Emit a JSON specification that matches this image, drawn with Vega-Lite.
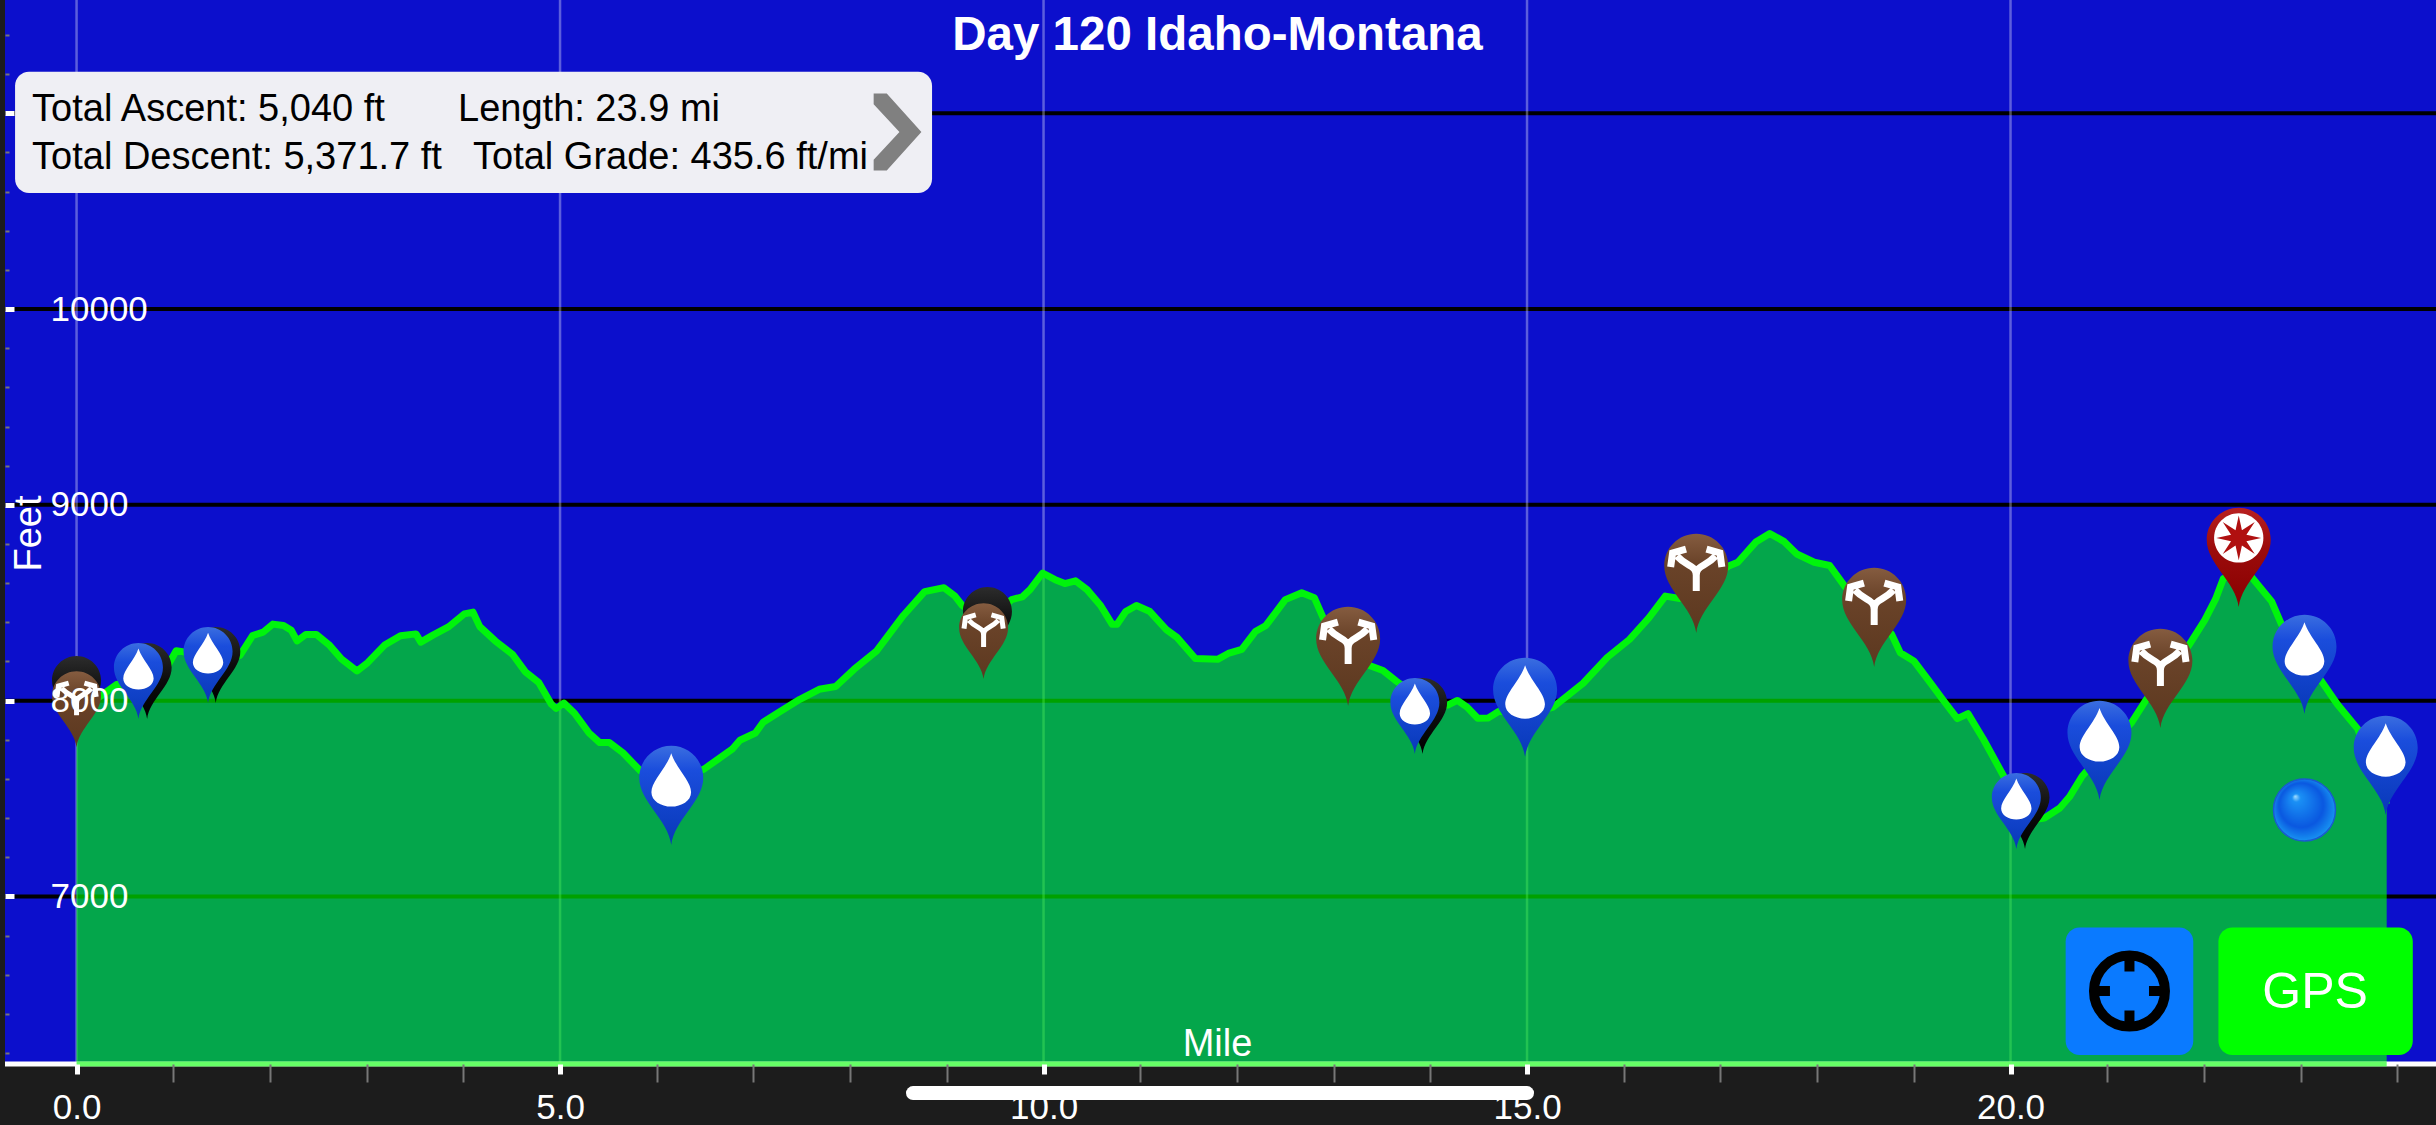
{
"$schema":"https://vega.github.io/schema/vega-lite/v6.json",
"width":2431,"height":1064,
"autosize":{"type":"none"},
"padding":{"left":5,"top":0,"right":0,"bottom":61},
"background":"#1c1c1c",
"view":{"fill":"#0c0fcc","stroke":null},
"title":{"text":"Day 120 Idaho-Montana","fontSize":47.5,"font":"Liberation Sans","fontWeight":"bold","color":"#ffffff","offset":-61,"dx":-3,"anchor":"middle"},
"datasets":{
"profile":[
{"mile":0,"feet":7835},{"mile":0.21,"feet":8010},{"mile":0.42,"feet":8084},{"mile":0.61,"feet":8047},{"mile":0.95,"feet":8185},{"mile":1.03,"feet":8255},{"mile":1.11,"feet":8249},{"mile":1.27,"feet":8244},{"mile":1.69,"feet":8231},{"mile":1.82,"feet":8332},{"mile":1.93,"feet":8350},{"mile":2.03,"feet":8391},{"mile":2.14,"feet":8384},{"mile":2.22,"feet":8360},{"mile":2.28,"feet":8305},{"mile":2.37,"feet":8338},{"mile":2.48,"feet":8338},{"mile":2.61,"feet":8286},{"mile":2.74,"feet":8213},{"mile":2.9,"feet":8152},{"mile":3.01,"feet":8194},{"mile":3.19,"feet":8286},{"mile":3.35,"feet":8332},{"mile":3.51,"feet":8341},{"mile":3.56,"feet":8299},{"mile":3.69,"feet":8336},{"mile":3.85,"feet":8378},{"mile":4.01,"feet":8443},{"mile":4.1,"feet":8452},{"mile":4.17,"feet":8378},{"mile":4.33,"feet":8305},{"mile":4.51,"feet":8236},{"mile":4.64,"feet":8148},{"mile":4.78,"feet":8093},{"mile":4.91,"feet":7982},{"mile":4.96,"feet":7960},{"mile":5.04,"feet":7988},{"mile":5.15,"feet":7936},{"mile":5.3,"feet":7835},{"mile":5.41,"feet":7786},{"mile":5.51,"feet":7786},{"mile":5.65,"feet":7734},{"mile":5.83,"feet":7642},{"mile":6.15,"feet":7578},{"mile":6.49,"feet":7651},{"mile":6.78,"feet":7752},{"mile":6.86,"feet":7798},{"mile":7.02,"feet":7835},{"mile":7.1,"feet":7890},{"mile":7.28,"feet":7946},{"mile":7.48,"feet":8007},{"mile":7.68,"feet":8058},{"mile":7.85,"feet":8072},{"mile":8.04,"feet":8160},{"mile":8.27,"feet":8252},{"mile":8.55,"feet":8435},{"mile":8.77,"feet":8557},{"mile":8.97,"feet":8577},{"mile":9.08,"feet":8536},{"mile":9.16,"feet":8486},{"mile":9.4,"feet":8400},{"mile":9.67,"feet":8516},{"mile":9.78,"feet":8530},{"mile":9.86,"feet":8567},{"mile":9.99,"feet":8652},{"mile":10.12,"feet":8618},{"mile":10.22,"feet":8598},{"mile":10.33,"feet":8612},{"mile":10.45,"feet":8567},{"mile":10.59,"feet":8486},{"mile":10.71,"feet":8390},{"mile":10.76,"feet":8390},{"mile":10.85,"feet":8455},{"mile":10.96,"feet":8486},{"mile":11.1,"feet":8455},{"mile":11.27,"feet":8363},{"mile":11.38,"feet":8323},{"mile":11.57,"feet":8215},{"mile":11.8,"feet":8211},{"mile":11.91,"feet":8241},{"mile":12.05,"feet":8262},{"mile":12.19,"feet":8353},{"mile":12.3,"feet":8384},{"mile":12.5,"feet":8516},{"mile":12.67,"feet":8551},{"mile":12.8,"feet":8526},{"mile":12.89,"feet":8425},{"mile":13.15,"feet":8280},{"mile":13.37,"feet":8180},{"mile":13.51,"feet":8154},{"mile":13.65,"feet":8099},{"mile":13.9,"feet":8010},{"mile":14.18,"feet":7977},{"mile":14.28,"feet":8001},{"mile":14.38,"feet":7967},{"mile":14.49,"feet":7910},{"mile":14.6,"feet":7912},{"mile":14.71,"feet":7946},{"mile":15,"feet":7930},{"mile":15.27,"feet":7967},{"mile":15.58,"feet":8089},{"mile":15.83,"feet":8221},{"mile":16.06,"feet":8313},{"mile":16.26,"feet":8423},{"mile":16.43,"feet":8534},{"mile":16.58,"feet":8522},{"mile":16.85,"feet":8600},{"mile":17.08,"feet":8686},{"mile":17.18,"feet":8707},{"mile":17.37,"feet":8812},{"mile":17.51,"feet":8854},{"mile":17.66,"feet":8812},{"mile":17.79,"feet":8749},{"mile":17.97,"feet":8707},{"mile":18.13,"feet":8690},{"mile":18.29,"feet":8581},{"mile":18.55,"feet":8470},{"mile":18.77,"feet":8339},{"mile":18.86,"feet":8245},{"mile":19,"feet":8203},{"mile":19.16,"feet":8098},{"mile":19.32,"feet":7992},{"mile":19.45,"feet":7908},{"mile":19.56,"feet":7934},{"mile":19.72,"feet":7803},{"mile":19.93,"feet":7614},{"mile":20.15,"feet":7385},{"mile":20.35,"feet":7400},{"mile":20.51,"feet":7452},{"mile":20.61,"feet":7509},{"mile":20.74,"feet":7614},{"mile":21,"feet":7760},{"mile":21.25,"feet":7887},{"mile":21.4,"feet":8003},{"mile":21.6,"feet":8120},{"mile":21.85,"feet":8287},{"mile":22.01,"feet":8413},{"mile":22.12,"feet":8518},{"mile":22.2,"feet":8623},{"mile":22.35,"feet":8660},{"mile":22.49,"feet":8633},{"mile":22.7,"feet":8507},{"mile":22.8,"feet":8392},{"mile":23.22,"feet":8097},{"mile":23.38,"feet":7982},{"mile":23.59,"feet":7856},{"mile":23.89,"feet":7470}
],
"pins":[
{"mile":0,"feet":7840,"kind":"hidden","tier":"small"},
{"mile":0.73,"feet":7907,"kind":"hidden","tier":"small"},
{"mile":1.44,"feet":7988,"kind":"hidden","tier":"small"},
{"mile":9.42,"feet":8192,"kind":"hidden","tier":"small"},
{"mile":13.92,"feet":7728,"kind":"hidden","tier":"small"},
{"mile":20.15,"feet":7243,"kind":"hidden","tier":"small"},
{"mile":0,"feet":7762,"kind":"junction","tier":"small"},
{"mile":9.38,"feet":8110,"kind":"junction","tier":"small"},
{"mile":13.15,"feet":7973,"kind":"junction","tier":"large"},
{"mile":16.75,"feet":8346,"kind":"junction","tier":"large"},
{"mile":18.59,"feet":8172,"kind":"junction","tier":"large"},
{"mile":21.55,"feet":7861,"kind":"junction","tier":"large"},
{"mile":0.64,"feet":7907,"kind":"water","tier":"small"},
{"mile":1.36,"feet":7988,"kind":"water","tier":"small"},
{"mile":6.15,"feet":7263,"kind":"water","tier":"large"},
{"mile":13.84,"feet":7728,"kind":"water","tier":"small"},
{"mile":14.98,"feet":7712,"kind":"water","tier":"large"},
{"mile":20.06,"feet":7243,"kind":"water","tier":"small"},
{"mile":20.92,"feet":7493,"kind":"water","tier":"large"},
{"mile":23.04,"feet":7932,"kind":"water","tier":"large"},
{"mile":23.88,"feet":7416,"kind":"water","tier":"large"},
{"mile":22.36,"feet":8478,"kind":"summit","tier":"large"}
],
"panels":[
{"name":"card","mile":-0.636,"mile2":8.847,"feet":11211,"feet2":10593},
{"name":"locate","mile":20.57,"mile2":21.89,"feet":6842,"feet2":6190},
{"name":"gps","mile":22.15,"mile2":24.16,"feet":6842,"feet2":6190}
],
"labels":[
{"label":"Total Ascent: 5,040 ft","mile":-0.46,"feet":11015,"group":"card"},
{"label":"Length: 23.9 mi","mile":3.945,"feet":11015,"group":"card"},
{"label":"Total Descent: 5,371.7 ft","mile":-0.46,"feet":10772,"group":"card"},
{"label":"Total Grade: 435.6 ft/mi","mile":4.1,"feet":10772,"group":"card"},
{"label":"GPS","mile":23.15,"feet":6505,"group":"button"}
],
"tracks":[
{"track":"axis","mile":-0.74,"feet":6144.6},{"track":"axis","mile":24.4,"feet":6144.6},
{"track":"floor","mile":0,"feet":6144.6},{"track":"floor","mile":23.89,"feet":6144.6},
{"track":"home","mile":8.65,"feet":5996},{"track":"home","mile":15,"feet":5996}
],
"spots":[
{"spot":"ball","mile":23.04,"feet":7442},
{"spot":"target","mile":21.23,"feet":6517},
{"spot":"chevron","mile":8.49,"feet":10904}
],
"verticals":[{"mile":0},{"mile":5},{"mile":10},{"mile":15},{"mile":20}],
"horizontals":[{"feet":7000},{"feet":8000},{"feet":9000},{"feet":10000},{"feet":11000}]
},
"encoding":{
"x":{"field":"mile","type":"quantitative","scale":{"domain":[-0.74,24.4],"nice":false,"zero":false},
"axis":{"values":[0,1,2,3,4,5,6,7,8,9,10,11,12,13,14,15,16,17,18,19,20,21,22,23,24],
"title":"Mile","titleFont":"Liberation Sans","titleFontSize":38,"titleFontWeight":"normal","titleColor":"#ffffff","titleX":1212,"titleY":-20,"titleBaseline":"middle","titleAlign":"center",
"labelExpr":"datum.value % 5 == 0 ? format(datum.value,'.1f') : ''","labelFont":"Liberation Sans","labelFontSize":35,"labelColor":"#ffffff","labelPadding":16,"labelOverlap":false,"labelFlush":false,
"domain":false,"grid":false,
"tickColor":{"condition":{"test":"datum.value % 5 == 0","value":"#ffffff"},"value":"#777777"},
"tickWidth":{"condition":{"test":"datum.value % 5 == 0","value":5},"value":2},
"tickSize":{"condition":{"test":"datum.value % 5 == 0","value":10},"value":18},
"zindex":1}},
"y":{"field":"feet","type":"quantitative","scale":{"domain":[6144.6,11578],"nice":false,"zero":false},
"axis":{"values":[6200,6400,6600,6800,7000,7200,7400,7600,7800,8000,8200,8400,8600,8800,9000,9200,9400,9600,9800,10000,10200,10400,10600,10800,11000,11200,11400],
"title":"Feet","titleFont":"Liberation Sans","titleFontSize":38,"titleFontWeight":"normal","titleColor":"#ffffff","titleX":24,"titleY":533,"titleBaseline":"middle","titleAlign":"center","titleAngle":-90,
"labelExpr":"datum.value % 1000 == 0 && datum.value < 11000 ? format(datum.value,'d') : ''","labelFont":"Liberation Sans","labelFontSize":35,"labelColor":"#ffffff","labelAlign":"left","labelPadding":-36,"labelOverlap":false,
"domain":false,"grid":false,
"tickColor":{"condition":{"test":"datum.value % 1000 == 0","value":"#ffffff"},"value":"#777777"},
"tickWidth":{"condition":{"test":"datum.value % 1000 == 0","value":5},"value":2},
"tickSize":{"condition":{"test":"datum.value % 1000 == 0","value":-9},"value":-4},
"zindex":1}}
},
"layer":[
{"data":{"name":"horizontals"},"mark":{"type":"rule","color":"#000000","strokeWidth":4},"encoding":{"x":null}},
{"data":{"name":"verticals"},"mark":{"type":"rule","color":"#ffffff","strokeOpacity":0.33,"strokeWidth":2.5},"encoding":{"y":null}},
{"data":{"name":"profile"},"mark":{"type":"area","color":"#00ff00","fillOpacity":0.63,"interpolate":"linear","clip":true}},
{"data":{"name":"profile"},"mark":{"type":"line","color":"#00f40c","strokeWidth":7,"strokeJoin":"round"}},
{"data":{"name":"tracks"},"transform":[{"filter":"datum.track==='axis'"}],"mark":{"type":"line","color":"#ffffff","strokeWidth":5,"clip":false}},
{"data":{"name":"tracks"},"transform":[{"filter":"datum.track==='floor'"}],"mark":{"type":"line","color":"#00ff00","strokeOpacity":0.6,"strokeWidth":5,"clip":false}},
{"data":{"name":"pins"},"transform":[{"filter":"datum.kind==='hidden'"}],
 "mark":{"type":"point","filled":true,"opacity":1,"fill":{"gradient":"linear","x1":0,"y1":0,"x2":0,"y2":1,"stops":[{"offset":0,"color":"#2c2c2c"},{"offset":0.5,"color":"#0c0c0c"},{"offset":1,"color":"#000000"}]},"shape":"M0,0 C-0.1,-0.8 -1,-1.35 -1,-2.1 C-1,-2.652 -0.552,-3.1 0,-3.1 C0.552,-3.1 1,-2.652 1,-2.1 C1,-1.35 0.1,-0.8 0,0 Z"},
 "encoding":{"size":{"field":"tier","type":"nominal","scale":{"domain":["small","large"],"range":[2401,4096]},"legend":null}}},
{"data":{"name":"pins"},"transform":[{"filter":"datum.kind==='junction'"}],
 "mark":{"type":"point","filled":true,"opacity":1,"fill":{"gradient":"linear","x1":0,"y1":0,"x2":0,"y2":1,"stops":[{"offset":0,"color":"#855c40"},{"offset":0.3,"color":"#6a4329"},{"offset":1,"color":"#5c381f"}]},"shape":"M0,0 C-0.1,-0.8 -1,-1.35 -1,-2.1 C-1,-2.652 -0.552,-3.1 0,-3.1 C0.552,-3.1 1,-2.652 1,-2.1 C1,-1.35 0.1,-0.8 0,0 Z"},
 "encoding":{"size":{"field":"tier","type":"nominal","scale":{"domain":["small","large"],"range":[2401,4096]},"legend":null}}},
{"data":{"name":"pins"},"transform":[{"filter":"datum.kind==='water'"}],
 "mark":{"type":"point","filled":true,"opacity":1,"fill":{"gradient":"linear","x1":0,"y1":0,"x2":0,"y2":1,"stops":[{"offset":0,"color":"#3a6ee0"},{"offset":0.25,"color":"#1a4ddc"},{"offset":1,"color":"#0838b8"}]},"shape":"M0,0 C-0.1,-0.8 -1,-1.35 -1,-2.1 C-1,-2.652 -0.552,-3.1 0,-3.1 C0.552,-3.1 1,-2.652 1,-2.1 C1,-1.35 0.1,-0.8 0,0 Z"},
 "encoding":{"size":{"field":"tier","type":"nominal","scale":{"domain":["small","large"],"range":[2401,4096]},"legend":null}}},
{"data":{"name":"pins"},"transform":[{"filter":"datum.kind==='summit'"}],
 "mark":{"type":"point","filled":true,"opacity":1,"fill":{"gradient":"linear","x1":0,"y1":0,"x2":0,"y2":1,"stops":[{"offset":0,"color":"#b82020"},{"offset":0.4,"color":"#9c0c0c"},{"offset":1,"color":"#880000"}]},"shape":"M0,0 C-0.1,-0.8 -1,-1.35 -1,-2.1 C-1,-2.652 -0.552,-3.1 0,-3.1 C0.552,-3.1 1,-2.652 1,-2.1 C1,-1.35 0.1,-0.8 0,0 Z"},
 "encoding":{"size":{"field":"tier","type":"nominal","scale":{"domain":["small","large"],"range":[2401,4096]},"legend":null}}},
{"data":{"name":"pins"},"transform":[{"filter":"datum.kind==='water'"}],
 "mark":{"type":"point","filled":true,"opacity":1,"color":"#ffffff","shape":"M0,-2.87 C0.15,-2.4 0.62,-2 0.62,-1.65 C0.62,-1.38 0.32,-1.2 0,-1.2 C-0.32,-1.2 -0.62,-1.38 -0.62,-1.65 C-0.62,-2 -0.15,-2.4 0,-2.87 Z"},
 "encoding":{"size":{"field":"tier","type":"nominal","scale":{"domain":["small","large"],"range":[2401,4096]},"legend":null}}},
{"data":{"name":"pins"},"transform":[{"filter":"datum.kind==='junction'"}],
 "mark":{"type":"point","filled":false,"opacity":1,"color":"#ffffff","shape":"M0,-1.31 L0,-1.8 C0,-2.12 -0.28,-2.05 -0.6,-2.4 M-0.8,-2.06 L-0.74,-2.5 L-0.32,-2.62 M0,-1.8 C0,-2.12 0.28,-2.05 0.6,-2.4 M0.8,-2.06 L0.74,-2.5 L0.32,-2.62"},
 "encoding":{"size":{"field":"tier","type":"nominal","scale":{"domain":["small","large"],"range":[2401,4096]},"legend":null},
  "strokeWidth":{"field":"tier","type":"nominal","scale":{"domain":["small","large"],"range":[5,7]},"legend":null}}},
{"data":{"name":"pins"},"transform":[{"filter":"datum.kind==='summit'"}],
 "mark":{"type":"point","filled":true,"opacity":1,"color":"#ffffff","shape":"M0,-2.93 C0.425,-2.93 0.77,-2.585 0.77,-2.16 C0.77,-1.735 0.425,-1.39 0,-1.39 C-0.425,-1.39 -0.77,-1.735 -0.77,-2.16 C-0.77,-2.585 -0.425,-2.93 0,-2.93 Z"},
 "encoding":{"size":{"field":"tier","type":"nominal","scale":{"domain":["small","large"],"range":[2401,4096]},"legend":null}}},
{"data":{"name":"pins"},"transform":[{"filter":"datum.kind==='summit'"}],
 "mark":{"type":"point","filled":true,"opacity":1,"color":"#b01010","shape":"M0,-2.86 L0.1,-2.4 L0.5,-2.66 L0.24,-2.26 L0.7,-2.16 L0.24,-2.06 L0.5,-1.66 L0.1,-1.92 L0,-1.46 L-0.1,-1.92 L-0.5,-1.66 L-0.24,-2.06 L-0.7,-2.16 L-0.24,-2.26 L-0.5,-2.66 L-0.1,-2.4 Z"},
 "encoding":{"size":{"field":"tier","type":"nominal","scale":{"domain":["small","large"],"range":[2401,4096]},"legend":null}}},
{"data":{"name":"panels"},"mark":{"type":"rect","cornerRadius":14},
 "encoding":{"x2":{"field":"mile2"},"y2":{"field":"feet2"},
  "color":{"field":"name","type":"nominal","scale":{"domain":["card","locate","gps"],"range":["#efeff4","#0a7aff","#00ff00"]},"legend":null}}},
{"data":{"name":"spots"},"transform":[{"filter":"datum.spot==='chevron'"}],
 "mark":{"type":"point","filled":true,"opacity":1,"color":"#808080","size":5929,"shape":"M-0.62,-1 L-0.28,-1 L0.62,0 L-0.28,1 L-0.62,1 L-0.62,0.72 L0.05,0 L-0.62,-0.72 Z"}},
{"data":{"name":"spots"},"transform":[{"filter":"datum.spot==='target'"}],
 "mark":{"type":"point","filled":false,"opacity":1,"color":"#000000","strokeWidth":10,"size":5041,"shape":"M0,-1 C0.552,-1 1,-0.552 1,0 C1,0.552 0.552,1 0,1 C-0.552,1 -1,0.552 -1,0 C-1,-0.552 -0.552,-1 0,-1 Z M0,-1 L0,-0.55 M0,1 L0,0.55 M-1,0 L-0.55,0 M1,0 L0.55,0"}},
{"data":{"name":"spots"},"transform":[{"filter":"datum.spot==='ball'"}],
 "mark":{"type":"point","shape":"circle","filled":true,"opacity":1,"size":3844,"stroke":"#1a5ad0","strokeWidth":1.5,"fill":{"gradient":"radial","x1":0.35,"y1":0.28,"r1":0,"x2":0.5,"y2":0.5,"r2":0.55,"stops":[{"offset":0,"color":"#a8e0ff"},{"offset":0.12,"color":"#1a90f5"},{"offset":0.65,"color":"#0a58e0"},{"offset":1,"color":"#1aa0f5"}]}}},
{"data":{"name":"labels"},"transform":[{"filter":"datum.group==='card'"}],
 "mark":{"type":"text","font":"Liberation Sans","fontSize":38,"color":"#000000","align":"left","baseline":"middle"},
 "encoding":{"text":{"field":"label"}}},
{"data":{"name":"labels"},"transform":[{"filter":"datum.group==='button'"}],
 "mark":{"type":"text","font":"Liberation Sans","fontSize":50,"color":"#ffffff","align":"center","baseline":"middle"},
 "encoding":{"text":{"field":"label"}}},
{"data":{"name":"tracks"},"transform":[{"filter":"datum.track==='home'"}],"mark":{"type":"line","color":"#ffffff","strokeWidth":14,"strokeCap":"round","clip":false}}
]
}
